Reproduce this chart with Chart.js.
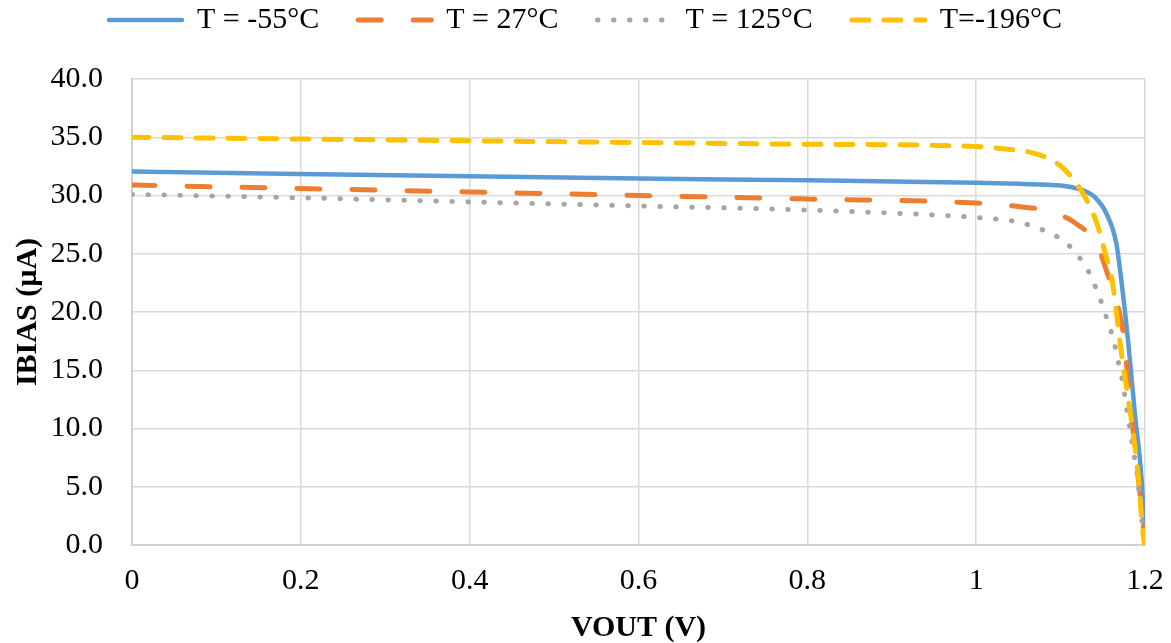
<!DOCTYPE html>
<html>
<head>
<meta charset="utf-8">
<script src="https://cdn.jsdelivr.net/npm/chart.js@4/dist/chart.umd.min.js"></script>
<style>
  html, body { margin: 0; padding: 0; background: #fff; }
  #wrap { width: 1171px; height: 643px; }
</style>
</head>
<body>
<div id="wrap"><canvas id="ivChart" width="1171" height="643"></canvas></div>
<script>
// IBIAS vs VOUT at four temperatures
const seriesNames = ['T = -55°C', 'T = 27°C', 'T = 125°C', 'T=-196°C'];

// T = -55°C
const voutM55 = [0, 0.2, 0.4, 0.6, 0.8, 1.0, 1.05, 1.1, 1.12, 1.13, 1.14, 1.154, 1.166, 1.172, 1.18, 1.188, 1.196, 1.2];
const ibiasM55 = [32.05, 31.85, 31.65, 31.45, 31.3, 31.1, 31.0, 30.85, 30.6, 30.35, 29.9, 28.5, 25.9, 22.7, 17.5, 11.3, 5.6, 0];

// T = 27°C
const voutP27 = [0, 0.2, 0.4, 0.6, 0.8, 1.0, 1.05, 1.09, 1.12, 1.143, 1.155, 1.167, 1.175, 1.182, 1.19, 1.197, 1.2];
const ibiasP27 = [30.9, 30.6, 30.3, 30.0, 29.7, 29.35, 29.05, 28.6, 27.5, 25.8, 23.4, 20.8, 17.8, 12.5, 7.0, 2.4, 0];

// T = 125°C
const voutP125 = [0, 0.2, 0.4, 0.6, 0.8, 0.983, 1.02, 1.04, 1.059, 1.077, 1.095, 1.11, 1.122, 1.133, 1.141, 1.148, 1.154, 1.16, 1.165, 1.169, 1.173, 1.176, 1.179, 1.182, 1.185, 1.188, 1.191, 1.193, 1.195, 1.197, 1.2];
const ibiasP125 = [30.1, 29.8, 29.45, 29.1, 28.75, 28.2, 28.0, 27.85, 27.55, 27.1, 26.5, 25.7, 24.7, 23.5, 22.2, 20.9, 19.6, 18.3, 16.9, 15.5, 14.2, 12.8, 11.4, 10.1, 8.7, 7.3, 5.9, 4.5, 3.1, 1.7, 0];

// T = -196°C
const voutM196 = [0, 0.2, 0.4, 0.6, 0.8, 1.0, 1.034, 1.07, 1.099, 1.117, 1.131, 1.143, 1.153, 1.161, 1.167, 1.172, 1.178, 1.186, 1.192, 1.198, 1.2];
const ibiasM196 = [35.0, 34.85, 34.7, 34.55, 34.4, 34.2, 34.0, 33.6, 32.6, 31.2, 29.6, 27.6, 25.0, 22.7, 19.5, 16.5, 13.6, 9.6, 5.9, 0.8, 0];

const xTitle = 'VOUT (V)';
const yTitle = 'IBIAS (µA)';

function toPoints(xs, ys) {
  return xs.map((x, i) => ({ x: x, y: ys[i] }));
}

const serif = "'Liberation Serif', 'Times New Roman', serif";

const datasets = [
  {
    label: seriesNames[0],
    data: toPoints(voutM55, ibiasM55),
    borderColor: '#5B9BD5',
    backgroundColor: '#5B9BD5',
    borderWidth: 4.5,
    borderDash: [],
    borderCapStyle: 'round',
    order: 4
  },
  {
    label: seriesNames[1],
    data: toPoints(voutP27, ibiasP27),
    borderColor: '#ED7D31',
    backgroundColor: '#ED7D31',
    borderWidth: 5,
    borderDash: [23, 32],
    borderCapStyle: 'round',
    order: 3
  },
  {
    label: seriesNames[2],
    data: toPoints(voutP125, ibiasP125),
    borderColor: '#A5A5A5',
    backgroundColor: '#A5A5A5',
    borderWidth: 5,
    borderDash: [0.5, 15.5],
    borderCapStyle: 'round',
    order: 2
  },
  {
    label: seriesNames[3],
    data: toPoints(voutM196, ibiasM196),
    borderColor: '#FFC000',
    backgroundColor: '#FFC000',
    borderWidth: 5,
    borderDash: [17, 15],
    borderCapStyle: 'round',
    order: 1
  }
];

// fixed legend band height
const legendBand = {
  id: 'legendBand',
  beforeInit(chart) {
    const fit = chart.legend.fit;
    chart.legend.fit = function () {
      fit.bind(chart.legend)();
      this.height = 113;
    };
  }
};

// legend samples use the line's own dash and caps
function lineLegendLabels(chart) {
  const items = Chart.defaults.plugins.legend.labels.generateLabels(chart);
  return items.map((item) => {
    const ds = chart.data.datasets[item.datasetIndex];
    item.lineDash = ds.borderDash;
    item.lineCap = ds.borderCapStyle;
    item.lineWidth = ds.borderWidth;
    item.strokeStyle = ds.borderColor;
    return item;
  });
}

new Chart(document.getElementById('ivChart'), {
  type: 'scatter',
  data: { datasets: datasets },
  plugins: [legendBand],
  options: {
    responsive: false,
    animation: false,
    showLine: true,
    layout: { padding: { top: -34, left: 0, right: 0, bottom: 0 } },
    elements: {
      point: { radius: 0, hoverRadius: 0 },
      line: { cubicInterpolationMode: 'monotone', borderJoinStyle: 'round' }
    },
    plugins: {
      tooltip: { enabled: false },
      legend: {
        position: 'top',
        labels: {
          usePointStyle: true,
          pointStyle: 'line',
          pointStyleWidth: 73,
          padding: 39,
          color: '#000',
          font: { family: serif, size: 30 },
          generateLabels: lineLegendLabels,
          sort: (a, b) => a.datasetIndex - b.datasetIndex
        }
      }
    },
    scales: {
      x: {
        type: 'linear',
        min: 0,
        max: 1.2,
        ticks: {
          stepSize: 0.2,
          color: '#000',
          padding: 18,
          font: { family: serif, size: 30 },
          callback: (v) => String(Number(v.toFixed(1)))
        },
        grid: { color: '#D9D9D9', lineWidth: 1.5, drawTicks: false },
        border: { color: '#D0D0D0', width: 2 },
        title: {
          display: true,
          text: xTitle,
          color: '#000',
          padding: 0,
          font: { family: serif, size: 30, weight: 'bold', lineHeight: 1 }
        },
        afterFit(scale) {
          scale.height = 98;
          scale.paddingRight = 26;
        }
      },
      y: {
        type: 'linear',
        min: 0,
        max: 40,
        ticks: {
          stepSize: 5,
          color: '#000',
          padding: 29,
          font: { family: serif, size: 30 },
          callback: (v) => v.toFixed(1)
        },
        grid: { color: '#D9D9D9', lineWidth: 1.5, drawTicks: false },
        border: { color: '#D0D0D0', width: 2 },
        title: {
          display: true,
          text: yTitle,
          color: '#000',
          padding: { top: 13, bottom: 0 },
          font: { family: serif, size: 30, weight: 'bold', lineHeight: 1 }
        },
        afterFit(scale) { scale.width = 132; }
      }
    }
  }
});
</script>
</body>
</html>
